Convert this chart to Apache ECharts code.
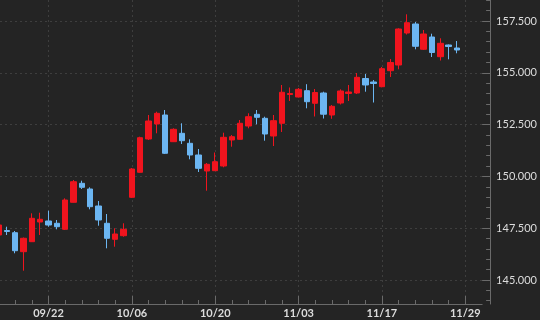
<!DOCTYPE html>
<html><head><meta charset="utf-8">
<script src="https://cdn.jsdelivr.net/npm/echarts@6/dist/echarts.min.js"></script>
<style>html,body{margin:0;padding:0;background:#242424}#c{width:540px;height:320px}</style>
</head><body><div id="c"></div>
<script>
const dates = ['09/12','09/15','09/16','09/17','09/18','09/19','09/22','09/23','09/24','09/25','09/26','09/29','09/30','10/01','10/02','10/03','10/06','10/07','10/08','10/09','10/10','10/13','10/14','10/15','10/16','10/17','10/20','10/21','10/22','10/23','10/24','10/27','10/28','10/29','10/30','10/31','11/03','11/04','11/05','11/06','11/07','11/10','11/11','11/12','11/13','11/14','11/17','11/18','11/19','11/20','11/21','11/24','11/25','11/26','11/27','11/28','11/29'];
const openV  = [147172,147389,147283,146366,146849,147799,147848,147737,147447,148750,149667,149392,148572,147737,146964,147138,148991,150198,151805,152529,152963,151675,152080,151597,151033,150261,150275,150502,151757,151790,152432,152997,152804,151950,152563,153952,153832,154136,153528,154025,152963,153542,154001,154025,154724,154556,154329,155101,155376,156920,157355,156134,156727,155777,156341,156196];
const closeV = [147654,147341,146414,147013,147978,147930,147654,147572,148861,149744,149474,148538,147896,147013,147220,147447,150357,151868,152674,153045,151115,152273,151723,151033,150391,150584,150710,151887,151916,152563,152881,152852,152046,152688,154059,154001,154203,153605,154049,153002,153383,154121,154073,154782,154411,154483,155198,155497,157113,157418,156279,156872,155979,156423,156269,156100];
const lowV   = [147076,147172,146289,145449,146834,147172,147572,147447,147413,148740,149392,148412,147621,146530,146607,147090,148957,150178,151757,152080,151081,151660,151564,150825,150212,149310,150261,150439,151433,151781,152321,152514,151723,151467,152143,153639,153808,153287,152891,152794,152780,153470,153639,153977,154088,153566,154300,154797,155169,156848,156134,156100,155762,155593,155651,155941];
const highV  = [147750,147572,147365,147051,148219,148248,148345,147896,148943,149826,149792,149474,148813,148185,147495,147737,150405,151916,152963,153122,153205,152321,152563,151790,151322,150647,151153,152109,151998,152722,153045,153205,152881,152963,154411,154290,154266,154450,154218,154088,153446,154203,154411,154990,154942,154652,155279,155666,157147,157823,157451,157065,156886,156665,156365,156534];
const xTickLabels = ['09/22','10/06','10/20','11/03','11/17','11/29'];
const yTickValues = [145000,147500,150000,152500,155000,157500];
const yMinorValues = [144000,144500,145000,145500,146000,146500,147000,147500,148000,148500,149000,149500,150000,150500,151000,151500,152000,152500,153000,153500,154000,154500,155000,155500,156000,156500,157000,157500,158000,158500];
const yMin = 143842, yMax = 158513;
const xMin = 0.18, xMax = 58.02;

const candles = openV.map((o, i) => [i, o, closeV[i], lowV[i], highV[i]]);
const majorIdx = xTickLabels.map(l => dates.indexOf(l));
const minorIdx = dates.map((d, i) => i).filter(i => i % 2 === 0);
const fmt = v => String(v).replace(/\B(?=(\d{3})+(?!\d))/g, '.');

const chart = echarts.init(document.getElementById('c'), null, {renderer: 'canvas'});
chart.setOption({
  backgroundColor: '#242424',
  animation: false,
  grid: {left: 0, top: 0, right: 53, bottom: 16, containLabel: false},
  xAxis: [{
    type: 'value', min: xMin, max: xMax,
    axisLine: {show: true, lineStyle: {color: '#6a6a6a', width: 1}},
    axisTick: {show: true, inside: true, length: 8, customValues: majorIdx, lineStyle: {color: '#6a6a6a'}},
    axisLabel: {show: true, customValues: majorIdx, formatter: v => dates[Math.round(v)], color: '#dcdcdc', fontFamily: 'Lato', fontWeight: 'bold', fontSize: 11, margin: 4},
    splitLine: {show: true, lineStyle: {color: '#3e3e3e', type: [2, 3], width: 1}}
  }, {
    type: 'value', min: xMin, max: xMax, position: 'bottom',
    axisLine: {show: false},
    axisTick: {show: true, inside: true, length: 4, customValues: minorIdx, lineStyle: {color: '#6a6a6a'}},
    axisLabel: {show: false}, splitLine: {show: false}
  }],
  yAxis: [{
    type: 'value', position: 'right', offset: 8, min: yMin, max: yMax,
    axisLine: {show: true, lineStyle: {color: '#6a6a6a'}},
    axisTick: {show: true, inside: true, length: 8, customValues: yTickValues, lineStyle: {color: '#6a6a6a'}},
    axisLabel: {show: true, customValues: yTickValues, formatter: fmt, color: '#dcdcdc', fontFamily: 'Lato', fontSize: 11, margin: 6},
    splitLine: {show: true, lineStyle: {color: '#3e3e3e', type: [2, 3], width: 1}}
  }, {
    type: 'value', position: 'right', offset: 8, min: yMin, max: yMax,
    axisLine: {show: false},
    axisTick: {show: true, inside: true, length: 4, customValues: yMinorValues, lineStyle: {color: '#6a6a6a'}},
    axisLabel: {show: false}, splitLine: {show: false}
  }],
  series: [{
    type: 'candlestick', xAxisIndex: 0, yAxisIndex: 0, data: candles, barWidth: 6, clip: true,
    itemStyle: {color: '#f0141e', color0: '#6cb6f2', borderColor: '#f0141e', borderColor0: '#6cb6f2', borderWidth: 1}
  }]
});
</script></body></html>
